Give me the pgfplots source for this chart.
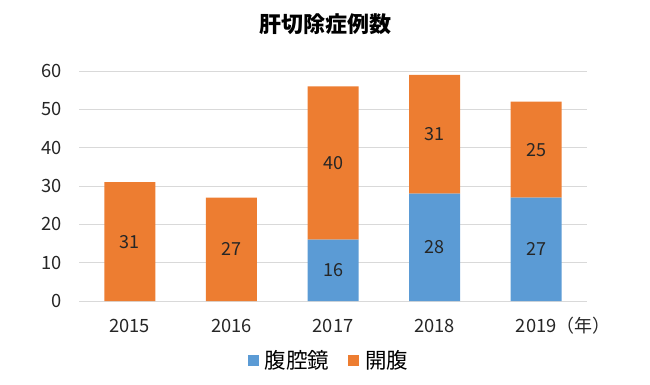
\documentclass[border=0pt]{standalone}
\usepackage{fontspec}
\setmainfont{Noto Sans CJK JP}
\usepackage{pgfplots}
\usepackage{pgfplotstable}
\pgfplotsset{compat=1.18}
\definecolor{lapblue}{HTML}{5B9BD5}
\definecolor{openorange}{HTML}{ED7D31}
\definecolor{gridgray}{HTML}{D9D9D9}
\definecolor{txt}{HTML}{262626}
\pgfplotstableread{
x lap lablap open labopen
0 0 {} 31 31
1 0 {} 27 27
2 16 16 40 40
3 28 28 31 31
4 27 27 25 25
}\data
\begin{document}
\begin{tikzpicture}[x=1pt,y=1pt]
\path[use as bounding box] (0,0) rectangle (650,384);
\node[font=\fontsize{22}{26}\selectfont\bfseries, text=black] at (325,360) {肝切除症例数};
\begin{axis}[
  at={(79pt,83pt)}, anchor=south west,
  scale only axis, width=508pt, height=230pt,
  ybar stacked, bar width=51pt,
  xmin=-0.5, xmax=4.5, ymin=0, ymax=60,
  enlargelimits=false,
  xtick={0,1,2,3,4}, xticklabels={2015,2016,2017,2018,2019},
  ytick={0,10,...,60},
  ymajorgrids, grid style={gridgray, line width=0.8pt},
  axis line style={draw=none},
  major tick length=0pt,
  tick label style={font=\fontsize{18.3}{22}\selectfont, text=txt},
  xticklabel style={anchor=base, inner sep=0pt, yshift=-31pt},
  yticklabel style={anchor=east, inner sep=0pt, xshift=-17pt},
  /pgf/number format/assume math mode=true,
  legend style={at={(0.49,-0.2565)}, anchor=center, draw=none, fill=none,
    legend columns=2, font=\fontsize{21.5}{25}\selectfont, text=black,
    column sep=0pt, /tikz/every even column/.append style={column sep=19pt},
    nodes={inner sep=0pt}},
  legend image code/.code={\fill[#1] (0pt,-5.5pt) rectangle (11pt,5.5pt); \path (17pt,0pt);},
  nodes near coords, point meta=explicit symbolic,
  nodes near coords style={font=\fontsize{18}{22}\selectfont, text=txt, anchor=center, inner sep=0pt},
]
\addplot[fill=lapblue, draw=none]
  table[x=x, y=lap, meta=lablap] {\data};
\addlegendentry{腹腔鏡}
\addplot[fill=openorange, draw=none]
  table[x=x, y=open, meta=labopen] {\data};
\addlegendentry{開腹}
\end{axis}
\node[anchor=base west, font=\fontsize{18}{22}\selectfont, text=txt, inner sep=0pt] at (556,52) {（年）};
\end{tikzpicture}
\end{document}
